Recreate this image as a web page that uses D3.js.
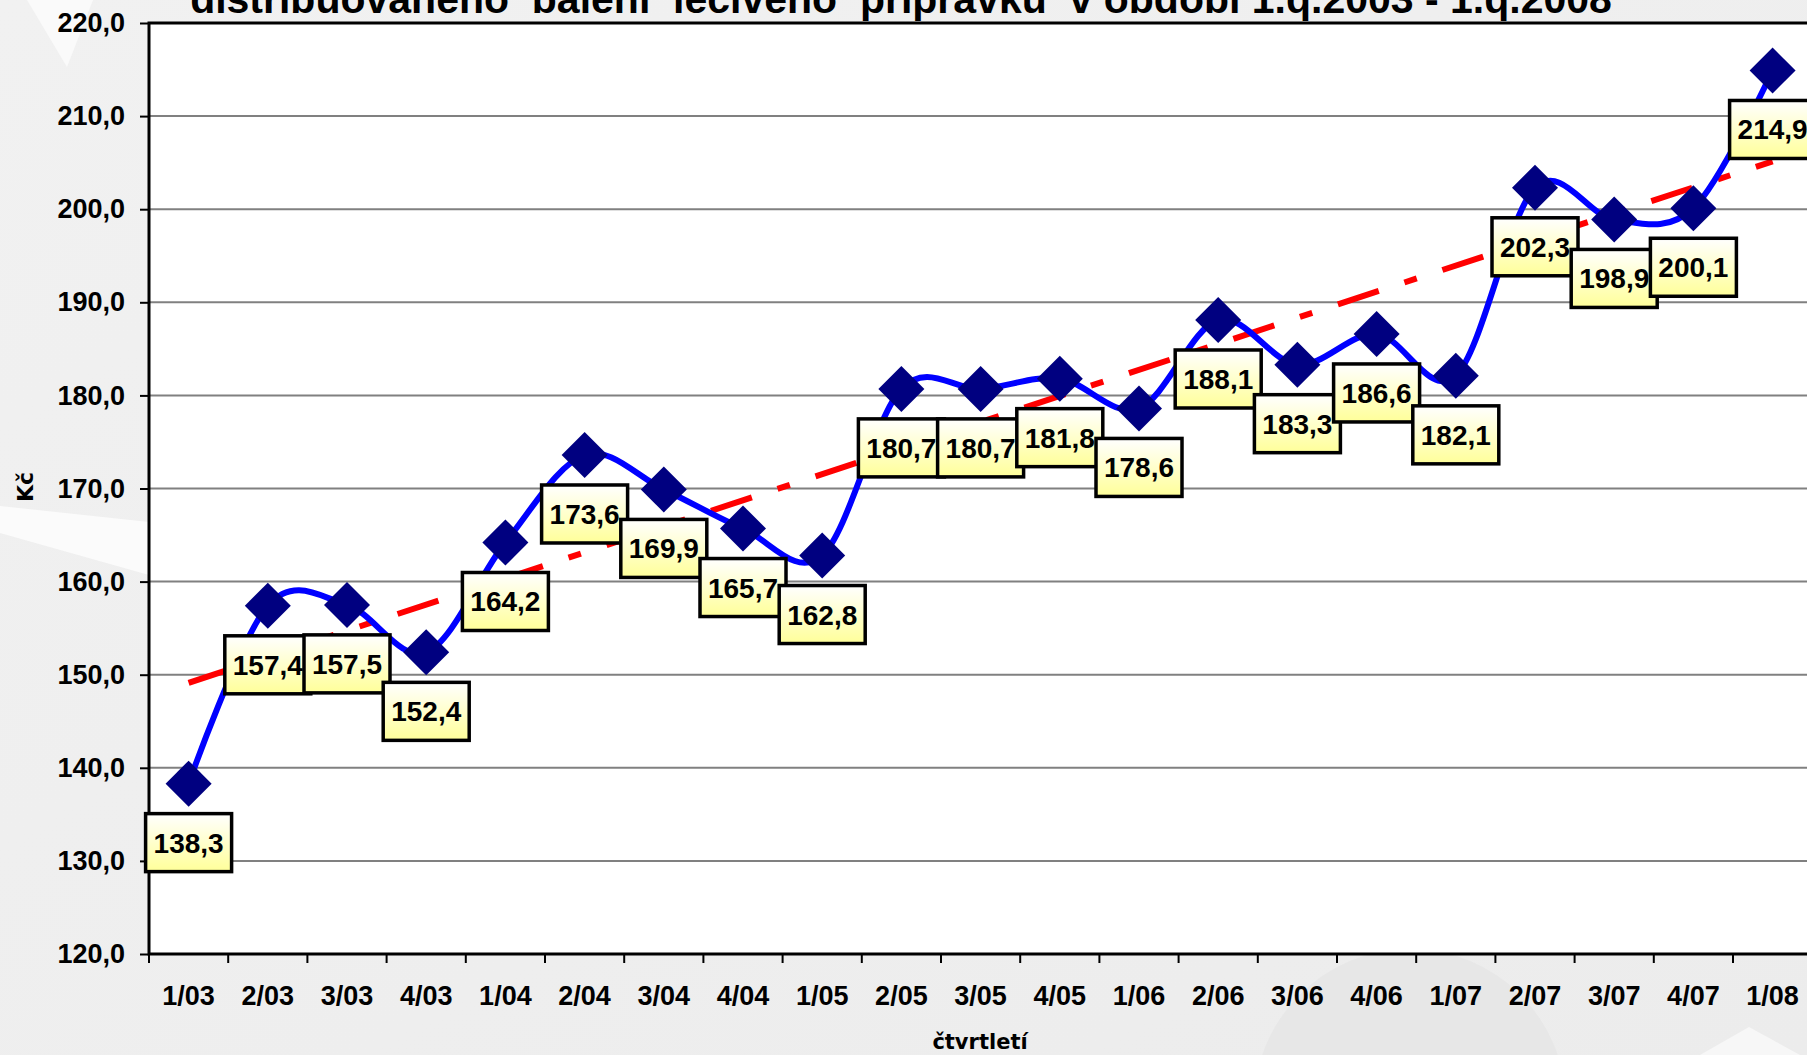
<!DOCTYPE html>
<html>
<head>
<meta charset="UTF-8">
<title>Kč za balení</title>
<script src="https://cdn.jsdelivr.net/npm/d3@7"></script>
<style>
  html, body { margin: 0; padding: 0; overflow: hidden; }
  svg { display: block; }
</style>
</head>
<body>
<script>
// čtvrtletí a průměrná cena za balení (Kč)
var categories = ["1/03","2/03","3/03","4/03","1/04","2/04","3/04","4/04","1/05","2/05","3/05",
                  "4/05","1/06","2/06","3/06","4/06","1/07","2/07","3/07","4/07","1/08"];
var values = [138.3,157.4,157.5,152.4,164.2,173.6,169.9,165.7,162.8,180.7,180.7,
              181.8,178.6,188.1,183.3,186.6,182.1,202.3,198.9,200.1,214.9];
var yTicks = [120,130,140,150,160,170,180,190,200,210,220];
var titleText = "distribuovaného  balení  léčivého  přípravku  v období 1.q.2003 - 1.q.2008";

var width = 1807, height = 1055;
var plot = {left: 149, top: 23, bottom: 954, step: 79.2};
var arial = "'Liberation Sans', Arial, sans-serif";
var fmt = function(d){ return d3.format(".1f")(d).replace(".", ","); };

var svg = d3.select("body").append("svg")
  .attr("width", width)
  .attr("height", height);

var defs = svg.append("defs");
var bg = defs.append("linearGradient").attr("id", "bg")
  .attr("x1", 0).attr("y1", 0).attr("x2", 1).attr("y2", 1);
bg.append("stop").attr("offset", 0).attr("stop-color", "#f1f1f1");
bg.append("stop").attr("offset", 1).attr("stop-color", "#ececec");
var lab = defs.append("linearGradient").attr("id", "lab")
  .attr("x1", 0).attr("y1", 0).attr("x2", 0).attr("y2", 1);
lab.append("stop").attr("offset", 0).attr("stop-color", "#ffffff");
lab.append("stop").attr("offset", 1).attr("stop-color", "#ffff99");

// pozadí snímku
svg.append("rect").attr("width", width).attr("height", height).attr("fill", "url(#bg)");
svg.append("polygon").attr("points", "27,0 93,0 67,67").attr("fill", "#fafafa");
svg.append("polygon").attr("points", "0,506 149,522 149,575 0,533").attr("fill", "#fbfbfb");
svg.append("circle").attr("cx", 1410).attr("cy", 1105).attr("r", 156).attr("fill", "#e7e7e7");
svg.append("polygon").attr("points", "1700,1055 1749,1027 1800,1055").attr("fill", "#f7f7f7");

// měřítka
var x = d3.scaleBand()
  .domain(categories)
  .range([plot.left, plot.left + plot.step * categories.length]);
var y = d3.scaleLinear()
  .domain([d3.min(yTicks), d3.max(yTicks)])
  .range([plot.bottom, plot.top]);
var cx = function(d, i){ return x(categories[i]) + x.bandwidth() / 2; };

// titulek (v originále oříznutý horním okrajem)
svg.append("text")
  .attr("x", 901).attr("y", 13)
  .attr("text-anchor", "middle")
  .attr("font-family", arial).attr("font-weight", "bold").attr("font-size", 41)
  .style("white-space", "pre")
  .text(titleText);

// plocha grafu
svg.append("rect")
  .attr("x", x.range()[0]).attr("y", plot.top)
  .attr("width", x.range()[1] - x.range()[0]).attr("height", plot.bottom - plot.top)
  .attr("fill", "#ffffff");

svg.append("g").selectAll("line").data(yTicks.slice(1, -1)).enter().append("line")
  .attr("x1", x.range()[0]).attr("x2", x.range()[1])
  .attr("y1", function(d){ return y(d); }).attr("y2", function(d){ return y(d); })
  .attr("stroke", "#808080").attr("stroke-width", 2);

// osa Y
var yAxis = svg.append("g")
  .attr("transform", "translate(" + plot.left + ",0)")
  .call(d3.axisLeft(y).tickValues(yTicks).tickSize(9).tickPadding(15).tickFormat(fmt));
yAxis.select(".domain").remove();
yAxis.selectAll(".tick line").attr("stroke", "#000").attr("stroke-width", 2);
yAxis.selectAll("text")
  .attr("font-family", arial).attr("font-weight", "bold").attr("font-size", 27).attr("fill", "#000");

// osa X
var xAxis = svg.append("g")
  .attr("transform", "translate(0," + plot.bottom + ")")
  .call(d3.axisBottom(x).tickSize(0).tickPadding(0));
xAxis.select(".domain").remove();
xAxis.selectAll("text")
  .attr("y", 51).attr("dy", 0)
  .attr("font-family", arial).attr("font-weight", "bold").attr("font-size", 27).attr("fill", "#000");
svg.append("g").selectAll("line")
  .data(categories.map(function(c){ return x(c); }).concat([x.range()[1]]))
  .enter().append("line")
  .attr("x1", function(d){ return d; }).attr("x2", function(d){ return d; })
  .attr("y1", plot.bottom).attr("y2", plot.bottom + 9)
  .attr("stroke", "#000").attr("stroke-width", 2);

// rámeček plochy
svg.append("path")
  .attr("d", "M" + x.range()[1] + "," + plot.top + "H" + plot.left + "V" + plot.bottom + "H" + x.range()[1])
  .attr("fill", "none").attr("stroke", "#000").attr("stroke-width", 3);

// popisy os
svg.append("text")
  .attr("transform", "translate(33,487) rotate(-90)")
  .attr("text-anchor", "middle")
  .attr("font-family", "'DejaVu Sans', Verdana, sans-serif").attr("font-weight", "bold").attr("font-size", 22)
  .text("Kč");
svg.append("text")
  .attr("x", 980).attr("y", 1049)
  .attr("text-anchor", "middle")
  .attr("font-family", "'DejaVu Sans', Verdana, sans-serif").attr("font-weight", "bold").attr("font-size", 21)
  .text("čtvrtletí");

// lineární trend (metoda nejmenších čtverců)
var idx = d3.range(values.length);
var mx = d3.mean(idx), my = d3.mean(values);
var slope = d3.sum(idx, function(i){ return (i - mx) * (values[i] - my); }) /
            d3.sum(idx, function(i){ return (i - mx) * (i - mx); });
var icpt = my - slope * mx;
svg.append("line")
  .attr("x1", cx(null, 0)).attr("y1", y(icpt))
  .attr("x2", cx(null, values.length - 1)).attr("y2", y(icpt + slope * (values.length - 1)))
  .attr("stroke", "#ff0000").attr("stroke-width", 6)
  .attr("stroke-dasharray", "43,27,13,27");

// vyhlazená čára
var line = d3.line()
  .x(function(d, i){ return cx(d, i); })
  .y(function(d){ return y(d); })
  .curve(d3.curveCardinal.tension(0));
svg.append("path").datum(values)
  .attr("d", line)
  .attr("fill", "none").attr("stroke", "#0000ff").attr("stroke-width", 6);

// značky
svg.append("g").selectAll("path").data(values).enter().append("path")
  .attr("d", "M0,-23L23,0L0,23L-23,0Z")
  .attr("transform", function(d, i){ return "translate(" + cx(d, i) + "," + y(d) + ")"; })
  .attr("fill", "#000080");

// popisky hodnot
var labels = svg.append("g").selectAll("g").data(values).enter().append("g")
  .attr("transform", function(d, i){ return "translate(" + cx(d, i) + "," + (y(d) + 59) + ")"; });
labels.append("rect")
  .attr("x", -43).attr("y", -29).attr("width", 86).attr("height", 58)
  .attr("fill", "url(#lab)").attr("stroke", "#000").attr("stroke-width", 3.5);
labels.append("text")
  .attr("text-anchor", "middle").attr("y", 10)
  .attr("font-family", arial).attr("font-weight", "bold").attr("font-size", 28)
  .text(fmt);
</script>
</body>
</html>
